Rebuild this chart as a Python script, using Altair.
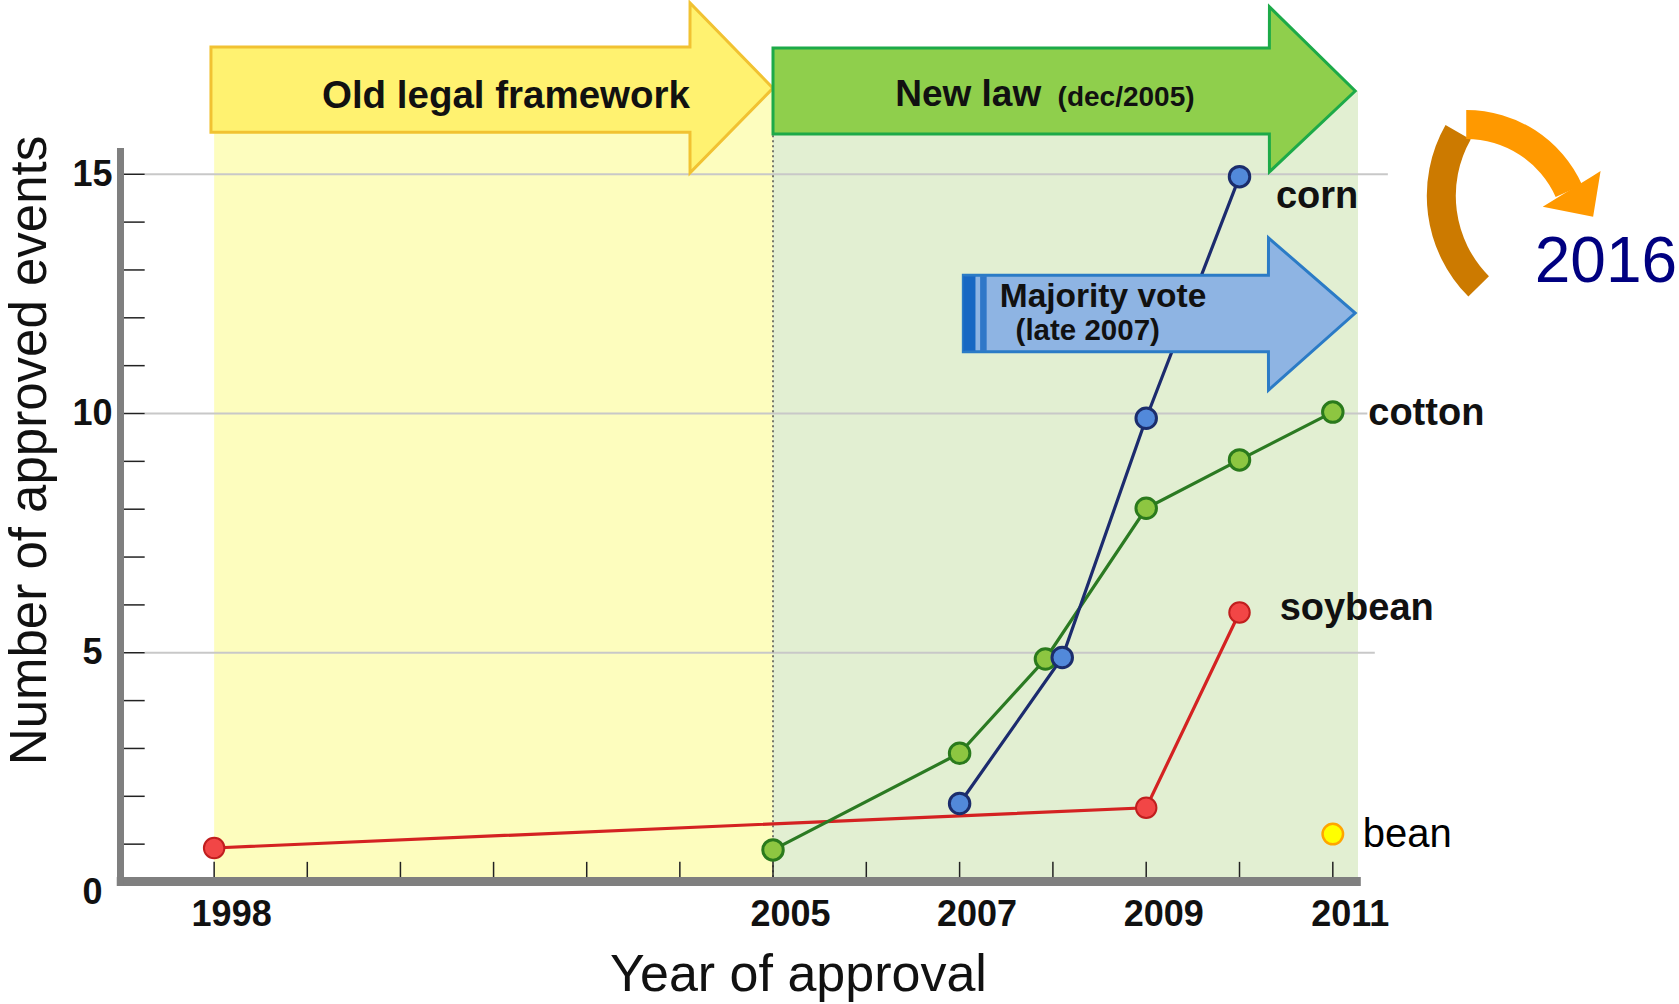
import altair as alt
import pandas as pd

# ---------------- values ----------------
corn_year = [2007, 2008.1, 2009, 2010]
corn_n = [1.85, 4.9, 9.9, 14.95]
cotton_year = [2005, 2007, 2007.92, 2009, 2010, 2011]
cotton_n = [0.88, 2.9, 4.87, 8.02, 9.03, 10.03]
soy_year = [1998, 2009, 2010]
soy_n = [0.92, 1.76, 5.84]
bean_year = [2011]
bean_n = [1.21]

crop_names = ["corn", "cotton", "soybean", "bean"]

x_label_values = [1998, 2005, 2007, 2009, 2011]
y_label_values = [0, 5, 10, 15]
x_minor_ticks = [1998, 1999.1667, 2000.3333, 2001.5, 2002.6667, 2003.8333,
                 2005, 2006, 2007, 2008, 2009, 2010, 2011]
y_minor_ticks = list(range(1, 16))
grid_values = [5, 10, 15]
grid_ends = [2011.45, 2011.37, 2011.59]

# annotation arrows (in data units: year / number of events)
old_arrow_x = [1997.96, 2003.96, 2003.961, 2005.0]
old_arrow_top = [17.66, 17.66, 18.58, 16.80]
old_arrow_bot = [15.88, 15.88, 15.03, 16.80]
new_arrow_x = [2005.0, 2010.32, 2010.321, 2011.24]
new_arrow_top = [17.64, 17.64, 18.50, 16.74]
new_arrow_bot = [15.84, 15.84, 15.05, 16.74]
vote_arrow_x = [2007.04, 2010.31, 2010.311, 2011.24]
vote_arrow_top = [12.89, 12.89, 13.67, 12.10]
vote_arrow_bot = [11.29, 11.29, 10.49, 12.10]

FONT = "Liberation Sans"

# ---------------- scales ----------------
XS = alt.Scale(domain=[1996.8333, 2005, 2011.27], range=[0, 652, 1237], nice=False, zero=False)
YS = alt.Scale(domain=[0, 18.6], nice=False, zero=True)

x_axis = alt.Axis(values=x_label_values, format="d", domain=False, ticks=False, tickSize=0,
                  grid=False, labelFont=FONT, labelFontSize=36, labelFontWeight="bold",
                  labelColor="#111111", labelPadding=5, labelOffset=17, labelBaseline="top",
                  labelAlign="center", labelFlush=False, labelOverlap=False, labelBound=False,
                  title="Year of approval", titleFont=FONT, titleFontSize=52,
                  titleFontWeight="normal", titleColor="#111111", titleX=677, titleY=98,
                  titleAlign="center", titleBaseline="alphabetic")
y_axis = alt.Axis(values=y_label_values, domain=False, ticks=False, tickSize=0, grid=False,
                  labelFont=FONT, labelFontSize=36, labelFontWeight="bold", labelColor="#111111",
                  labelAlign="center", labelBaseline="middle", labelPadding=29,
                  labelOverlap=False, labelBound=False, labelFlush=False,
                  title="Number of approved events", titleFont=FONT, titleFontSize=51,
                  titleFontWeight="normal", titleColor="#111111", titleAngle=270,
                  titleX=-76, titleY=448, titleAlign="center", titleBaseline="alphabetic")


def X(f):
    return alt.X(f, type="quantitative", scale=XS, axis=x_axis)


def Y(f):
    return alt.Y(f, type="quantitative", scale=YS, axis=y_axis)


layers = []

# background regions
bg = pd.DataFrame({"x0": [1998, 2005], "x1": [2005, 2011.27],
                   "y0": [0.22, 0.22], "y1": [16.8, 16.74],
                   "c": ["#FDFDBE", "#E2EFD2"]})
layers.append(alt.Chart(bg).mark_rect().encode(
    x=X("x0"), x2="x1", y=Y("y0"), y2="y1",
    color=alt.Color("c:N", scale=None)))

# gridlines
gdf = pd.DataFrame({"v": grid_values, "x0": [1997.13] * 3, "x1": grid_ends})
layers.append(alt.Chart(gdf).mark_rule(color="#C8C8C8", strokeWidth=2).encode(
    x=X("x0"), x2="x1", y=Y("v")))

# dotted line at 2005
layers.append(alt.Chart(pd.DataFrame({"x": [2005], "a": [0.31], "b": [17.64]}))
              .mark_rule(color="#555555", strokeWidth=1.6, strokeDash=[2, 3])
              .encode(x=X("x"), y=Y("a"), y2="b"))

# x minor ticks (pointing up)
xt = pd.DataFrame({"x": x_minor_ticks, "a": [0.31] * len(x_minor_ticks), "b": [0.63] * len(x_minor_ticks)})
layers.append(alt.Chart(xt).mark_rule(color="#222222", strokeWidth=1.5).encode(
    x=X("x"), y=Y("a"), y2="b"))

# y minor ticks (pointing right)
yt = pd.DataFrame({"v": y_minor_ticks, "a": [1996.87] * 15, "b": [1997.13] * 15})
layers.append(alt.Chart(yt).mark_rule(color="#222222", strokeWidth=1.5).encode(
    x=X("a"), x2="b", y=Y("v")))

# axis lines
layers.append(alt.Chart(pd.DataFrame({"a": [1996.78], "b": [2011.3], "y": [0.22]}))
              .mark_rule(color="#7F7F7F", strokeWidth=9).encode(x=X("a"), x2="b", y=Y("y")))
layers.append(alt.Chart(pd.DataFrame({"x": [1996.827], "a": [0.13], "b": [15.55]}))
              .mark_rule(color="#7F7F7F", strokeWidth=7).encode(x=X("x"), y=Y("a"), y2="b"))


def arrow(xs, tops, bots, fill, stroke):
    df = pd.DataFrame({"x": xs, "t": tops, "b": bots})
    return alt.Chart(df).mark_area(fill=fill, stroke=stroke, strokeWidth=3, orient="vertical",
                                   interpolate="linear", opacity=1, strokeJoin="miter").encode(
        x=X("x"), y=Y("t"), y2="b")


layers.append(arrow(old_arrow_x, old_arrow_top, old_arrow_bot, "#FFF270", "#F1C232"))
layers.append(arrow(new_arrow_x, new_arrow_top, new_arrow_bot, "#8FCF4C", "#1DAA48"))

# series lines and points
series = [
    ("soybean", soy_year, soy_n, "#D42222", "#F24646", "#C01E1E", 2),
    ("cotton", cotton_year, cotton_n, "#2B7A22", "#8DC641", "#2A7A1C", 3),
    ("corn", corn_year, corn_n, "#1C2B6E", "#5289DA", "#1B2D6C", 3),
    ("bean", bean_year, bean_n, None, "#FFFF00", "#FFA500", 2.5),
]
point_layers = []
for name, xs, ns, lc, fc, sc, sw in series:
    df = pd.DataFrame({"year": xs, "events": ns, "crop": name})
    if lc is not None:
        layers.append(alt.Chart(df).mark_line(color=lc, strokeWidth=3.2).encode(
            x=X("year"), y=Y("events")))
    point_layers.append(alt.Chart(df).mark_point(filled=True, fill=fc, stroke=sc, strokeWidth=sw,
                                                 size=420, opacity=1, shape="circle").encode(
        x=X("year"), y=Y("events")))
layers.extend(point_layers)

# majority vote arrow (on top of lines)
layers.append(arrow(vote_arrow_x, vote_arrow_top, vote_arrow_bot, "#8EB4E3", "#2B7BC6"))
stripes = pd.DataFrame({"a": [2007.04, 2007.22], "b": [2007.17, 2007.29],
                        "t": [12.87, 12.87], "u": [11.31, 11.31], "c": ["#1767C3", "#2F77C8"]})
layers.append(alt.Chart(stripes).mark_rect().encode(
    x=X("a"), x2="b", y=Y("u"), y2="t", color=alt.Color("c:N", scale=None)))


def label(txt, x, y, size, weight="bold", align="left", color="#111111", font=FONT):
    df = pd.DataFrame({"x": [x], "y": [y], "t": [txt]})
    return alt.Chart(df).mark_text(align=align, baseline="alphabetic", font=font, fontSize=size,
                                   fontWeight=weight, color=color).encode(
        x=X("x"), y=Y("y"), text="t:N")


layers.append(label("Old legal framework", 2003.96, 16.38, 38.5, align="right"))
layers.append(label("New law", 2006.31, 16.43, 37))
layers.append(label("(dec/2005)", 2008.05, 16.43, 28))
layers.append(label("Majority vote", 2007.43, 12.23, 33.5))
layers.append(label("(late 2007)", 2007.6, 11.54, 29.5))

# series labels
layers.append(label(crop_names[0], 2010.39, 14.29, 38))
layers.append(label(crop_names[1], 2011.38, 9.76, 38))
layers.append(label(crop_names[2], 2010.43, 5.68, 38))
layers.append(label(crop_names[3], 2011.32, 0.94, 40, weight="normal", color="#000000"))

# curved orange arrow towards 2016
layers.append(alt.Chart(pd.DataFrame({"x": [2013.54], "y": [14.55]})).mark_arc(
    theta=3.93, theta2=5.23, innerRadius=114, outerRadius=143, fill="#CC7A00").encode(
    x=X("x"), y=Y("y")))
layers.append(alt.Chart(pd.DataFrame({"x": [2012.43], "y": [13.69]})).mark_arc(
    theta=0.0, theta2=1.15, innerRadius=98, outerRadius=127, fill="#FF9900").encode(
    x=X("x"), y=Y("y")))
head = pd.DataFrame({"x": [2013.25, 2013.79, 2013.87], "t": [14.32, 14.97, 15.07],
                     "b": [14.32, 14.11, 15.07]})
layers.append(alt.Chart(head).mark_area(fill="#FF9900", orient="vertical", opacity=1).encode(
    x=X("x"), y=Y("t"), y2="b"))

layers.append(label("2016", 2014.69, 12.75, 64, weight="normal", align="right", color="#000080"))

chart = alt.layer(*layers).properties(
    width=1237, height=890,
    padding={"left": 121, "top": 2, "right": 321, "bottom": 112},
    autosize="none",
    background="white",
).configure_view(stroke=None)

chart.save("out.html", embed_options={"renderer": "svg", "actions": False})
